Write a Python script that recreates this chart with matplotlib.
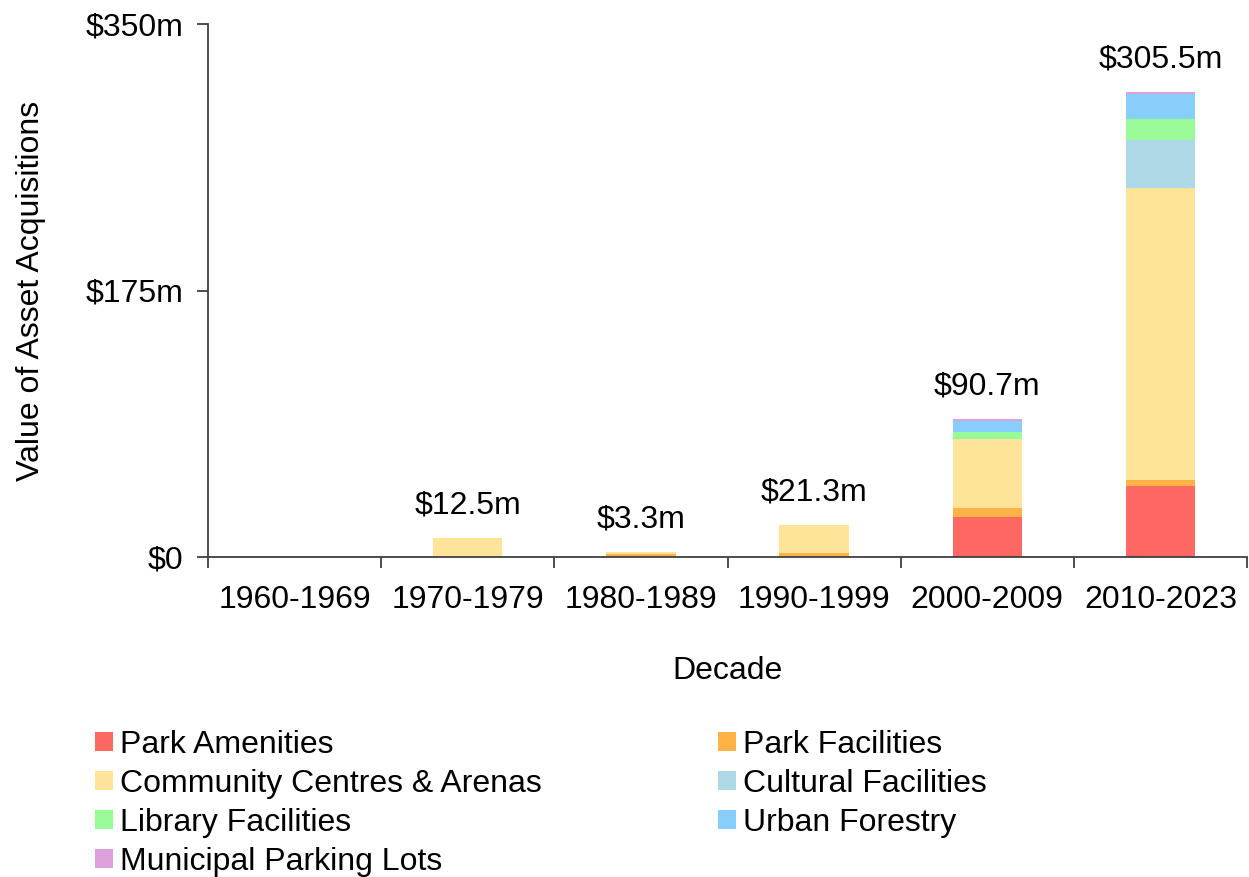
import numpy as np
import matplotlib.pyplot as plt
from matplotlib.patches import Patch

plt.rcParams['font.family'] = ['Liberation Sans', 'DejaVu Sans']
FS = 23

# ---- data ($ millions) ----
decades = ["1960-1969", "1970-1979", "1980-1989", "1990-1999", "2000-2009", "2010-2023"]
park_amenities = [0, 0, 0, 0, 26.5, 46.8]
park_facilities = [0, 0.3, 1.8, 2.6, 5.7, 3.8]
community_centres = [0, 12.2, 1.5, 18.7, 45.3, 191.5]
cultural_facilities = [0, 0, 0, 0, 0, 31.5]
library_facilities = [0, 0, 0, 0, 4.8, 13.8]
urban_forestry = [0, 0, 0, 0, 6.8, 16.8]
parking_lots = [0, 0, 0, 0, 1.6, 1.3]
totals = [0, 12.5, 3.3, 21.3, 90.7, 305.5]

series = [
    ("Park Amenities", park_amenities, "#ff6961"),
    ("Park Facilities", park_facilities, "#ffb347"),
    ("Community Centres & Arenas", community_centres, "#fde499"),
    ("Cultural Facilities", cultural_facilities, "#add8e6"),
    ("Library Facilities", library_facilities, "#98fb98"),
    ("Urban Forestry", urban_forestry, "#87cefa"),
    ("Municipal Parking Lots", parking_lots, "#dda0dd"),
]

fig = plt.figure(figsize=(12.49, 8.77), dpi=100)
ax = fig.add_axes([208 / 1249, 1 - 557 / 877, (1247 - 208) / 1249, (557 - 24) / 877])

x = np.arange(len(decades))
bottom = np.zeros(len(decades))
for name, vals, col in series:
    vals = np.array(vals, dtype=float)
    ax.bar(x, vals, width=0.4, bottom=bottom, color=col, label=name, linewidth=0)
    bottom += vals

# total labels above each non-empty bar
for xi, tot in zip(x, totals):
    if tot > 0:
        ax.text(xi, tot + 11.5, f"${tot:g}m", ha="center", va="bottom", fontsize=FS)

ax.set_xlim(-0.5, len(decades) - 0.5)
ax.set_ylim(0, 350)
ax.set_yticks([0, 175, 350])
ax.set_yticklabels(["$0", "$175m", "$350m"])
ax.set_xticks(x)
ax.set_xticklabels(decades)
ax.set_xticks(np.arange(-0.5, len(decades)), minor=True)
ax.tick_params(axis="x", which="major", length=0, pad=20, labelsize=FS)
ax.tick_params(axis="x", which="minor", length=8, width=1.3, color="#404040")
ax.tick_params(axis="y", length=8, width=1.3, color="#404040", labelsize=FS, pad=10)

for side in ["top", "right"]:
    ax.spines[side].set_visible(False)
for side in ["left", "bottom"]:
    ax.spines[side].set_color("#404040")
    ax.spines[side].set_linewidth(1.3)

ax.set_xlabel("Decade", fontsize=FS, labelpad=30)
ax.set_ylabel("Value of Asset Acquisitions", fontsize=FS, labelpad=28)

handles = [Patch(facecolor=c, label=n) for n, _, c in series]
# two-column legend filled row by row
order = [0, 2, 4, 6, 1, 3, 5]
fig.legend([handles[i] for i in order], [series[i][0] for i in order],
           loc="upper left", bbox_to_anchor=(95 / 1249, 1 - 730 / 877), ncol=2,
           frameon=False, fontsize=FS, handlelength=0.55, handleheight=0.55,
           handletextpad=0.22, columnspacing=5.54, labelspacing=0.28,
           borderaxespad=0, borderpad=0)

fig.savefig("out.png", dpi=100)
